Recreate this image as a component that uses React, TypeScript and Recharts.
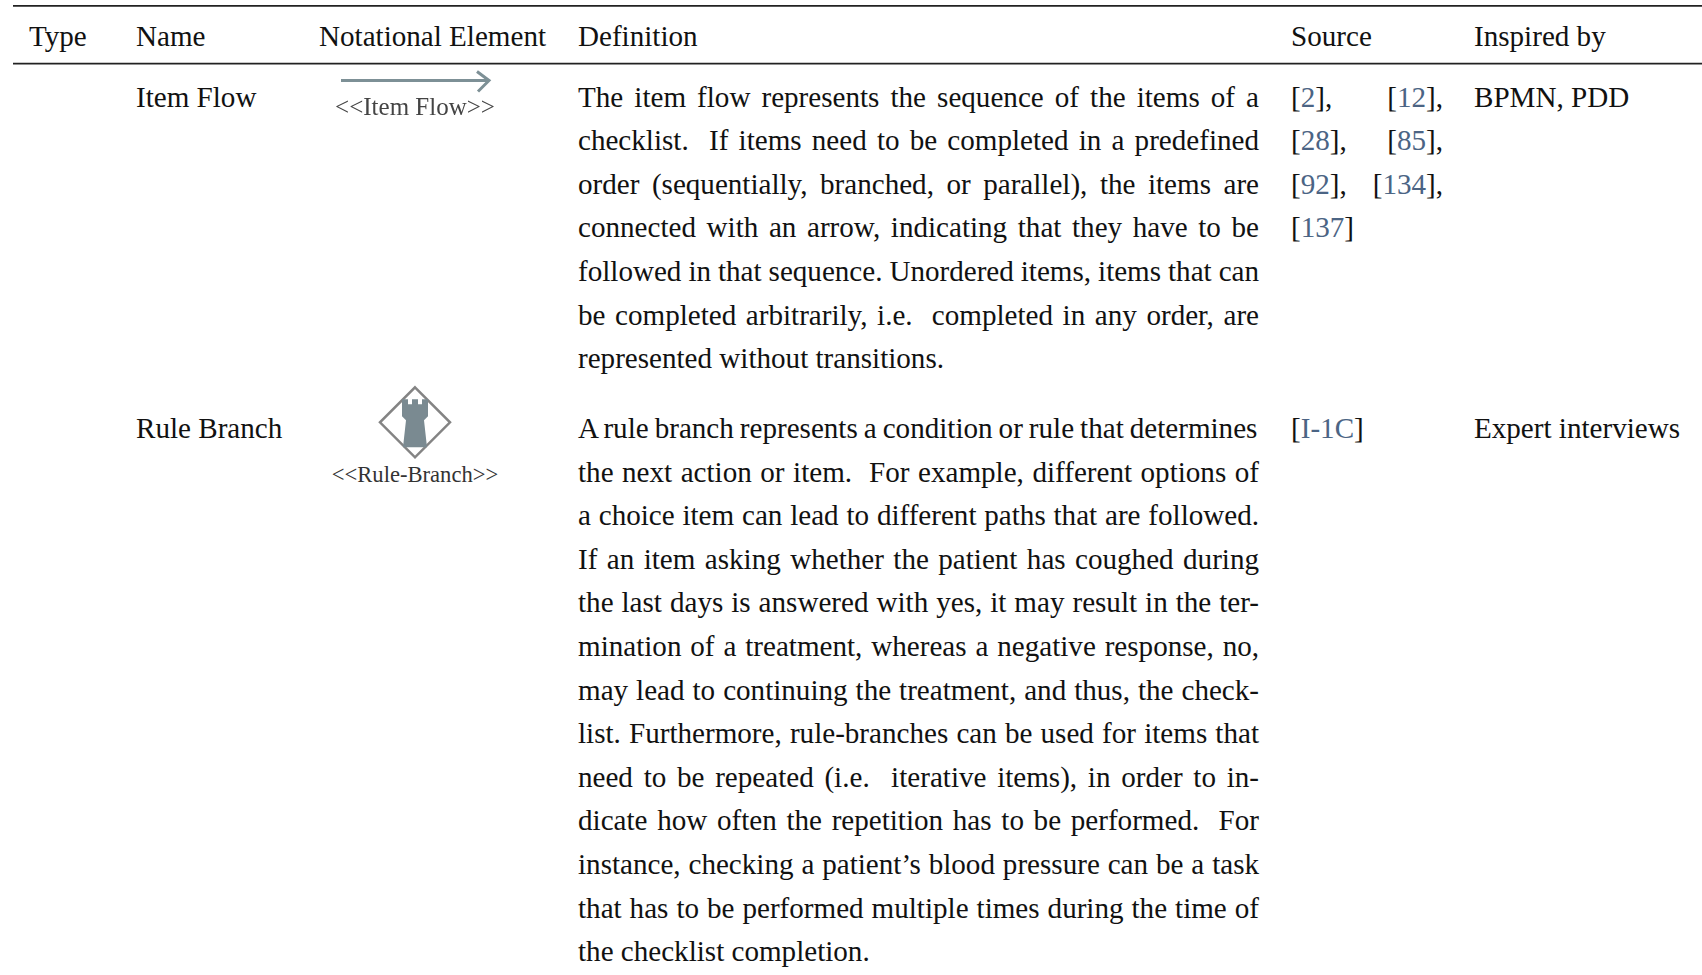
import { ReferenceLine, Scatter, ScatterChart, XAxis, YAxis } from "recharts";

const headers = ["Type", "Name", "Notational Element", "Definition", "Source", "Inspired by"];
const names = ["Item Flow", "Rule Branch"];
const inspiredBy = ["BPMN, PDD", "Expert interviews"];
const iconLabels = ["<<Item Flow>>", "<<Rule-Branch>>"];

const itemFlowDefinition = [
  "The item flow represents the sequence of the items of a",
  "checklist.  If items need to be completed in a predefined",
  "order (sequentially, branched, or parallel), the items are",
  "connected with an arrow, indicating that they have to be",
  "followed in that sequence. Unordered items, items that can",
  "be completed arbitrarily, i.e.  completed in any order, are",
  "represented without transitions.",
];
const ruleBranchDefinition = [
  "A rule branch represents a condition or rule that determines",
  "the next action or item.  For example, different options of",
  "a choice item can lead to different paths that are followed.",
  "If an item asking whether the patient has coughed during",
  "the last days is answered with yes, it may result in the ter-",
  "mination of a treatment, whereas a negative response, no,",
  "may lead to continuing the treatment, and thus, the check-",
  "list. Furthermore, rule-branches can be used for items that",
  "need to be repeated (i.e.  iterative items), in order to in-",
  "dicate how often the repetition has to be performed.  For",
  "instance, checking a patient’s blood pressure can be a task",
  "that has to be performed multiple times during the time of",
  "the checklist completion.",
];
const itemFlowSources = ["[2], [12],", "[28], [85],", "[92], [134],", "[137]"];
const ruleBranchSources = ["[I-1C]"];

// layout of the table, in page pixels / text lines
const WIDTH = 1702;
const HEIGHT = 975;
const LINE_PX = 43.6;
const FIRST_BASELINE = 106.6;
const FONT = '"Liberation Serif", "Times New Roman", serif';
const FONT_SIZE = 29.1;
const columnX = [29, 136, 319, 578, 1291, 1474];
const definitionRight = 1259;
const sourceRight = 1443;
const headerLine = -1.38;
const rowStart = [0, 7.6];
const topRule = -2.31;
const headerRule = -0.985;
const iconX = 415;
const iconLine = [-0.6, 7.24];
const iconLabelLine = [0.19, 8.61];
const iconLabelSize = [25, 22.6];

const pxToLine = (px: number) => (px - FIRST_BASELINE) / LINE_PX;

type Cell = { x: number; y: number; text: string; right?: number };

const rowCells = (lines: string[], col: number, row: number, right?: number): Cell[] =>
  lines.map((text, i) => ({
    x: columnX[col],
    y: rowStart[row] + i,
    text,
    right: i < lines.length - 1 ? right : undefined,
  }));

const sourceCells = (lines: string[], row: number): Cell[] =>
  lines.map((text, i) => ({
    x: columnX[4],
    y: rowStart[row] + i,
    text,
    right: text.includes(" ") ? sourceRight : undefined,
  }));

const textCells: Cell[] = [
  ...headers.map((text, i) => ({ x: columnX[i], y: headerLine, text })),
  ...names.map((text, i) => ({ x: columnX[1], y: rowStart[i], text })),
  ...inspiredBy.map((text, i) => ({ x: columnX[5], y: rowStart[i], text })),
  ...rowCells(itemFlowDefinition, 3, 0, definitionRight),
  ...rowCells(ruleBranchDefinition, 3, 1, definitionRight),
  ...sourceCells(itemFlowSources, 0),
  ...sourceCells(ruleBranchSources, 1),
];

const ctx = document.createElement("canvas").getContext("2d")!;

function wordGap(text: string, width: number) {
  ctx.font = `${FONT_SIZE}px ${FONT}`;
  const spaces = text.split(" ").length - 1;
  return spaces ? (width - ctx.measureText(text).width) / spaces : 0;
}

// brackets stay black, the reference inside them is blue
function withCitations(text: string) {
  if (!text.startsWith("[")) return text;
  return text.split(/([^\[\], ]+)/).map((part, i) =>
    i % 2 ? (
      <tspan key={i} fill="#4b6484">
        {part}
      </tspan>
    ) : (
      part
    )
  );
}

function CellText(props: any) {
  const { cx, cy, payload } = props;
  const gap = payload.right ? wordGap(payload.text, payload.right - cx) : 0;
  return (
    <text
      x={cx}
      y={cy}
      fontFamily={FONT}
      fontSize={FONT_SIZE}
      fill="#111"
      wordSpacing={gap}
      style={{ whiteSpace: "pre" }}
    >
      {withCitations(payload.text)}
    </text>
  );
}

function FlowIcon({ cx, cy }: any) {
  return (
    <g fill="none" stroke="#7d9096" strokeWidth={3} style={{ filter: "blur(0.6px)" }}>
      <path d={`M${cx - 74} ${cy}H${cx + 74}`} />
      <path d={`M${cx + 62} ${cy - 9}L${cx + 74} ${cy}L${cx + 63} ${cy + 11}`} />
    </g>
  );
}

function BranchIcon({ cx, cy }: any) {
  return (
    <g>
      <path
        d={`M${cx} ${cy - 35}L${cx + 35} ${cy}L${cx} ${cy + 35}L${cx - 35} ${cy}Z`}
        fill="#fff"
        stroke="#848484"
        strokeWidth={2.5}
      />
      <path
        d={`M${cx - 13} ${cy - 23}h6v5h4v-5h6v5h4v-5h6v17l-4 4l3 27h-24l3 -27l-4 -4z`}
        fill="#7a8a91"
      />
    </g>
  );
}

function IconLabel({ cx, cy, payload, index }: any) {
  const flow = payload.text.includes("Item");
  return (
    <text
      x={cx}
      y={cy}
      textAnchor="middle"
      fontFamily={FONT}
      fontSize={iconLabelSize[index]}
      fill={flow ? "#444" : "#333"}
      style={flow ? { filter: "blur(0.6px)" } : undefined}
    >
      {payload.text}
    </text>
  );
}

export default function App() {
  return (
    <div style={{ position: "absolute", left: 0, top: 0, width: WIDTH, height: HEIGHT, background: "#fff" }}>
      <ScatterChart width={WIDTH} height={HEIGHT} margin={{ top: 0, right: 0, bottom: 0, left: 0 }}>
        <XAxis type="number" dataKey="x" domain={[0, WIDTH]} hide allowDataOverflow />
        <YAxis type="number" dataKey="y" domain={[pxToLine(0), pxToLine(HEIGHT)]} reversed hide allowDataOverflow />
        <ReferenceLine
          segment={[{ x: 13, y: topRule }, { x: WIDTH, y: topRule }]}
          stroke="#222"
          strokeWidth={1.6}
        />
        <ReferenceLine
          segment={[{ x: 13, y: headerRule }, { x: WIDTH, y: headerRule }]}
          stroke="#222"
          strokeWidth={1.6}
        />
        <Scatter data={textCells} shape={CellText} isAnimationActive={false} />
        <Scatter data={[{ x: iconX, y: iconLine[0] }]} shape={FlowIcon} isAnimationActive={false} />
        <Scatter data={[{ x: iconX, y: iconLine[1] }]} shape={BranchIcon} isAnimationActive={false} />
        <Scatter
          data={iconLabels.map((text, i) => ({ x: iconX, y: iconLabelLine[i], text }))}
          shape={IconLabel}
          isAnimationActive={false}
        />
      </ScatterChart>
    </div>
  );
}
